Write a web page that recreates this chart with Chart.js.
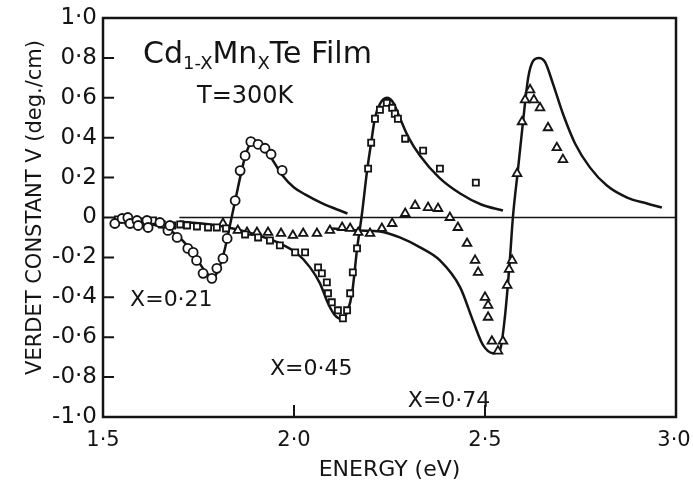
<!DOCTYPE html>
<html>
<head>
<meta charset="utf-8">
<script src="https://cdn.jsdelivr.net/npm/chart.js@4.4.0/dist/chart.umd.min.js"></script>
<style>
  html, body { margin: 0; padding: 0; background: #fff; }
  #wrap { width: 693px; height: 487px; }
</style>
</head>
<body>
<div id="wrap"><canvas id="verdet" width="693" height="487"></canvas></div>
<script>
const ink = "#141414";
const FONT = "'DejaVu Sans', sans-serif";

// axes
const xTicks = [1.5, 2.0, 2.5, 3.0];
const yTicks = [-1.0, -0.8, -0.6, -0.4, -0.2, 0, 0.2, 0.4, 0.6, 0.8, 1.0];

// zero reference line
const zeroE = [1.70, 3.0];
const zeroV = [0, 0];

// theory curves (energy in eV, V in deg./cm)
const fit021E = [1.56, 1.60, 1.64, 1.67, 1.70, 1.72, 1.74, 1.76, 1.775, 1.79, 1.80, 1.81, 1.82, 1.83, 1.84, 1.85, 1.86, 1.87, 1.88, 1.89, 1.90, 1.91, 1.93, 1.95, 1.97, 2.00, 2.03, 2.07, 2.10, 2.14];
const fit021V = [-0.01, -0.02, -0.04, -0.06, -0.10, -0.14, -0.19, -0.25, -0.285, -0.30, -0.27, -0.22, -0.15, -0.06, 0.03, 0.12, 0.21, 0.29, 0.35, 0.38, 0.385, 0.375, 0.33, 0.27, 0.21, 0.15, 0.115, 0.075, 0.05, 0.02];

const fit045E = [1.70, 1.78, 1.84, 1.89, 1.93, 1.963, 2.008, 2.042, 2.068, 2.089, 2.107, 2.126, 2.14, 2.152, 2.165, 2.178, 2.191, 2.202, 2.212, 2.225, 2.243, 2.259, 2.277, 2.30, 2.33, 2.38, 2.435, 2.49, 2.547];
const fit045V = [-0.02, -0.035, -0.055, -0.08, -0.105, -0.13, -0.18, -0.25, -0.33, -0.43, -0.49, -0.51, -0.47, -0.38, -0.16, 0.02, 0.23, 0.375, 0.50, 0.57, 0.60, 0.578, 0.50, 0.40, 0.31, 0.20, 0.12, 0.065, 0.035];

const fit074E = [2.10, 2.17, 2.225, 2.277, 2.33, 2.382, 2.435, 2.469, 2.495, 2.521, 2.539, 2.552, 2.565, 2.573, 2.586, 2.599, 2.613, 2.626, 2.641, 2.657, 2.678, 2.704, 2.736, 2.775, 2.819, 2.872, 2.924, 2.963];
const fit074V = [-0.055, -0.065, -0.07, -0.10, -0.15, -0.215, -0.35, -0.52, -0.64, -0.68, -0.665, -0.50, -0.215, 0.0, 0.235, 0.47, 0.70, 0.785, 0.80, 0.78, 0.67, 0.52, 0.37, 0.25, 0.16, 0.10, 0.07, 0.05];

// measured points
const circE = [1.531, 1.550, 1.565, 1.571, 1.589, 1.592, 1.615, 1.618, 1.649, 1.670, 1.675, 1.694, 1.722, 1.736, 1.745, 1.762, 1.785, 1.798, 1.814, 1.825, 1.846, 1.859, 1.872, 1.887, 1.906, 1.924, 1.940, 1.969];
const circV = [-0.03, -0.005, 0.0, -0.03, -0.015, -0.04, -0.015, -0.05, -0.025, -0.065, -0.04, -0.10, -0.155, -0.175, -0.215, -0.28, -0.305, -0.255, -0.205, -0.105, 0.085, 0.235, 0.31, 0.38, 0.367, 0.347, 0.317, 0.236];

const sqE = [1.539, 1.565, 1.597, 1.631, 1.654, 1.681, 1.702, 1.720, 1.746, 1.775, 1.798, 1.822, 1.872, 1.906, 1.937, 1.963, 2.003, 2.029, 2.063, 2.073, 2.086, 2.089, 2.099, 2.115, 2.128, 2.139, 2.147, 2.154, 2.165, 2.194, 2.202, 2.212, 2.225, 2.243, 2.257, 2.264, 2.272, 2.291, 2.338, 2.382, 2.476];
const sqV = [-0.01, -0.015, -0.02, -0.015, -0.035, -0.04, -0.035, -0.04, -0.045, -0.05, -0.05, -0.055, -0.085, -0.10, -0.115, -0.14, -0.175, -0.175, -0.25, -0.28, -0.325, -0.38, -0.425, -0.465, -0.505, -0.465, -0.38, -0.275, -0.155, 0.245, 0.375, 0.495, 0.54, 0.575, 0.55, 0.52, 0.495, 0.395, 0.335, 0.245, 0.175];

const triE = [1.814, 1.853, 1.877, 1.903, 1.932, 1.966, 1.997, 2.024, 2.060, 2.094, 2.126, 2.147, 2.168, 2.199, 2.230, 2.257, 2.291, 2.317, 2.351, 2.377, 2.408, 2.429, 2.453, 2.474, 2.482, 2.500, 2.508, 2.508, 2.518, 2.534, 2.547, 2.558, 2.563, 2.571, 2.584, 2.597, 2.605, 2.618, 2.628, 2.644, 2.665, 2.688, 2.704];
const triV = [-0.03, -0.065, -0.075, -0.075, -0.075, -0.08, -0.09, -0.08, -0.08, -0.065, -0.05, -0.055, -0.075, -0.08, -0.055, -0.03, 0.02, 0.06, 0.05, 0.045, 0.0, -0.05, -0.13, -0.215, -0.275, -0.40, -0.44, -0.50, -0.62, -0.67, -0.62, -0.34, -0.26, -0.215, 0.22, 0.48, 0.59, 0.64, 0.59, 0.55, 0.45, 0.35, 0.29];

function toPoints(xs, ys) {
  return xs.map((x, i) => ({ x: x, y: ys[i] }));
}

function dotted(v) {
  return v === 0 ? "0" : v.toFixed(1).replace(".", "·");
}

function markers(xs, ys, style, radius) {
  return {
    data: toPoints(xs, ys),
    showLine: false,
    pointStyle: style,
    pointRadius: radius,
    pointBackgroundColor: "#fff",
    pointBorderColor: ink,
    pointBorderWidth: 1.8
  };
}

function curve(xs, ys, width) {
  return {
    data: toPoints(xs, ys),
    showLine: true,
    borderColor: ink,
    borderWidth: width,
    pointRadius: 0,
    cubicInterpolationMode: "monotone",
    fill: false
  };
}

// box, inward tick marks, tick labels and the text inside the plot
const framePlugin = {
  id: "frame",
  afterDraw(chart) {
    const { ctx, chartArea: a, scales: { x, y } } = chart;
    ctx.save();
    ctx.strokeStyle = ink;
    ctx.lineWidth = 2.5;
    ctx.strokeRect(a.left, a.top, a.right - a.left, a.bottom - a.top);

    ctx.lineWidth = 2;
    ctx.beginPath();
    yTicks.forEach(v => {
      if (Math.abs(v) < 0.99) {
        const py = y.getPixelForValue(v);
        ctx.moveTo(a.left, py);
        ctx.lineTo(a.left + 11, py);
      }
    });
    xTicks.forEach(v => {
      if (v > 1.5 && v < 3.0) {
        const px = x.getPixelForValue(v);
        ctx.moveTo(px, a.bottom);
        ctx.lineTo(px, a.bottom - 12);
      }
    });
    ctx.stroke();

    ctx.fillStyle = ink;

    // tick labels
    ctx.textBaseline = "middle";
    ctx.font = "23px " + FONT;
    ctx.textAlign = "right";
    yTicks.forEach(v => ctx.fillText(dotted(v), a.left - 6, y.getPixelForValue(v)));
    ctx.font = "21px " + FONT;
    ctx.textAlign = "center";
    xTicks.forEach(v => {
      const px = Math.min(x.getPixelForValue(v), chart.width - 19);
      ctx.fillText(dotted(v), px, a.bottom + 24);
    });

    // vertical axis title
    ctx.save();
    ctx.translate(36, (a.top + a.bottom) / 2 - 10);
    ctx.rotate(-Math.PI / 2);
    ctx.font = "21px " + FONT;
    ctx.fillText("VERDET CONSTANT V (deg./cm)", 0, 0);
    ctx.restore();

    // Cd1-xMnxTe Film
    ctx.textAlign = "left";
    ctx.textBaseline = "alphabetic";
    let px = x.getPixelForValue(1.605);
    const py = y.getPixelForValue(0.774);
    [["Cd", 30, 0], ["1-X", 18, 6], ["Mn", 30, 0], ["X", 18, 6], ["Te Film", 30, 0]].forEach(([t, size, dy]) => {
      ctx.font = size + "px " + FONT;
      ctx.fillText(t, px, py + dy);
      px += ctx.measureText(t).width;
    });

    ctx.font = "24px " + FONT;
    ctx.fillText("T=300K", x.getPixelForValue(1.746), y.getPixelForValue(0.573));

    ctx.font = "22px " + FONT;
    ctx.textBaseline = "middle";
    ctx.fillText("X=0·21", x.getPixelForValue(1.571), y.getPixelForValue(-0.417));
    ctx.fillText("X=0·45", x.getPixelForValue(1.937), y.getPixelForValue(-0.759));
    ctx.fillText("X=0·74", x.getPixelForValue(2.298), y.getPixelForValue(-0.92));
    ctx.restore();
  }
};

new Chart(document.getElementById("verdet"), {
  type: "scatter",
  data: {
    datasets: [
      markers(circE, circV, "circle", 4.5),
      markers(sqE, sqV, "rect", 4.3),
      markers(triE, triV, "triangle", 5),
      curve(fit021E, fit021V, 2.5),
      curve(fit045E, fit045V, 2.5),
      curve(fit074E, fit074V, 2.5),
      curve(zeroE, zeroV, 1.6)
    ]
  },
  options: {
    responsive: false,
    animation: false,
    devicePixelRatio: 1,
    layout: { padding: { top: 18, right: 17, left: 0, bottom: 0 } },
    plugins: {
      legend: { display: false },
      tooltip: { enabled: false }
    },
    scales: {
      x: {
        type: "linear",
        min: 1.5,
        max: 3.0,
        afterBuildTicks: s => { s.ticks = xTicks.map(v => ({ value: v })); },
        afterFit: s => { s.height = 70; },
        grid: { display: false, drawTicks: false },
        border: { display: false },
        ticks: { display: false },
        title: {
          display: true,
          text: "ENERGY (eV)",
          color: ink,
          font: { family: FONT, size: 22 },
          padding: { top: 0, bottom: 4 }
        }
      },
      y: {
        type: "linear",
        min: -1.0,
        max: 1.0,
        afterBuildTicks: s => { s.ticks = yTicks.map(v => ({ value: v })); },
        afterFit: s => { s.width = 103; },
        grid: { display: false, drawTicks: false },
        border: { display: false },
        ticks: { display: false }
      }
    }
  },
  plugins: [framePlugin]
});
</script>
</body>
</html>
